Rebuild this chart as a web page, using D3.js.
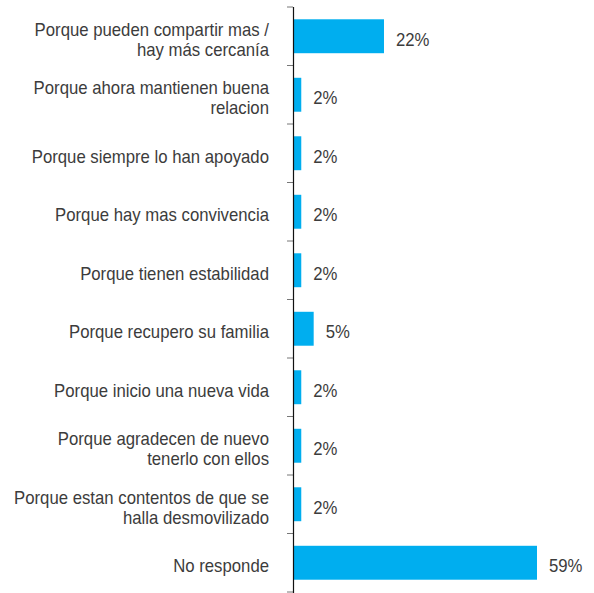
<!DOCTYPE html>
<html>
<head>
<meta charset="utf-8">
<script src="https://cdn.jsdelivr.net/npm/d3@7"></script>
<style>
  body { margin: 0; background: #fff; }
  .label { font-family: "Liberation Sans", Arial, sans-serif; font-size: 18px; fill: #3c3c3c; }
  .value { font-family: "Liberation Sans", Arial, sans-serif; font-size: 18px; fill: #3c3c3c; }
</style>
</head>
<body>
<div id="chart"></div>
<script>

var categories = [
  "Porque pueden compartir mas / hay más cercanía",
  "Porque ahora mantienen buena relacion",
  "Porque siempre lo han apoyado",
  "Porque hay mas convivencia",
  "Porque tienen estabilidad",
  "Porque recupero su familia",
  "Porque inicio una nueva vida",
  "Porque agradecen de nuevo tenerlo con ellos",
  "Porque estan contentos de que se halla desmovilizado",
  "No responde"
];
var values = [22, 2, 2, 2, 2, 5, 2, 2, 2, 59];

var width = 594;
var height = 593;
var margin = {top: 7, right: 56, bottom: 1, left: 293};

var svg = d3.select("#chart")
  .append("svg")
    .attr("width", width)
    .attr("height", height);

var chart = svg.append("g")
  .attr("transform", "translate(" + margin.left + "," + margin.top + ")");

var w = width - margin.left - margin.right;
var h = height - margin.top - margin.bottom;

var y = d3.scaleBand()
  .domain(categories)
  .range([0, h])
  .paddingInner(0.42)
  .paddingOuter(0.21);

var x = d3.scaleLinear()
  .domain([0, 59])
  .range([0, 244]);

// narrow look for the text
var squeeze = 0.93;
var textShift = 3;

// bars
chart.selectAll(".bar")
  .data(values)
  .enter().append("rect")
    .attr("class", "bar")
    .attr("x", 0)
    .attr("y", function(d, i) { return y(categories[i]); })
    .attr("width", function(d) { return x(d); })
    .attr("height", y.bandwidth())
    .attr("fill", "#00aeef");

// value labels
chart.selectAll(".value")
  .data(values)
  .enter().append("text")
    .attr("class", "value")
    .attr("transform", function(d, i) {
      return "translate(" + (x(d) + 12) + "," + (y(categories[i]) + y.bandwidth() / 2 + textShift) + ") scale(" + squeeze + ",1)";
    })
    .attr("dy", "0.35em")
    .text(function(d) { return d + "%"; });

// ticks between the bands
var bounds = d3.range(categories.length + 1).map(function(i) { return i * y.step(); });
chart.selectAll(".tick")
  .data(bounds)
  .enter().append("line")
    .attr("x1", -6)
    .attr("x2", 0)
    .attr("y1", function(d) { return d; })
    .attr("y2", function(d) { return d; })
    .attr("stroke", "#777")
    .attr("stroke-width", 1);

// axis line
chart.append("line")
  .attr("x1", 0.5).attr("x2", 0.5)
  .attr("y1", 0).attr("y2", h + 1)
  .attr("stroke", "#111")
  .attr("stroke-width", 1.2);

// category labels, wrapped
var labelG = chart.append("g")
  .attr("transform", "translate(-24," + textShift + ") scale(" + squeeze + ",1)");

var labels = labelG.selectAll(".label")
  .data(categories)
  .enter().append("text")
    .attr("class", "label")
    .attr("text-anchor", "end")
    .attr("x", 0);

labels.each(function(d) {
  var text = d3.select(this);
  var words = d.split(" ");
  var lines = [];
  var line = [];
  var tspan = text.append("tspan");
  words.forEach(function(word) {
    line.push(word);
    tspan.text(line.join(" "));
    if (tspan.node().getComputedTextLength() * squeeze > 259 && line.length > 1) {
      line.pop();
      lines.push(line.join(" "));
      line = [word];
    }
  });
  lines.push(line.join(" "));
  tspan.remove();
  var lh = 20;
  var cy = y(d) + y.bandwidth() / 2;
  lines.forEach(function(l, i) {
    text.append("tspan")
      .attr("x", 0)
      .attr("y", cy + (i - (lines.length - 1) / 2) * lh)
      .attr("dy", "0.35em")
      .text(l);
  });
});

</script>
</body>
</html>
